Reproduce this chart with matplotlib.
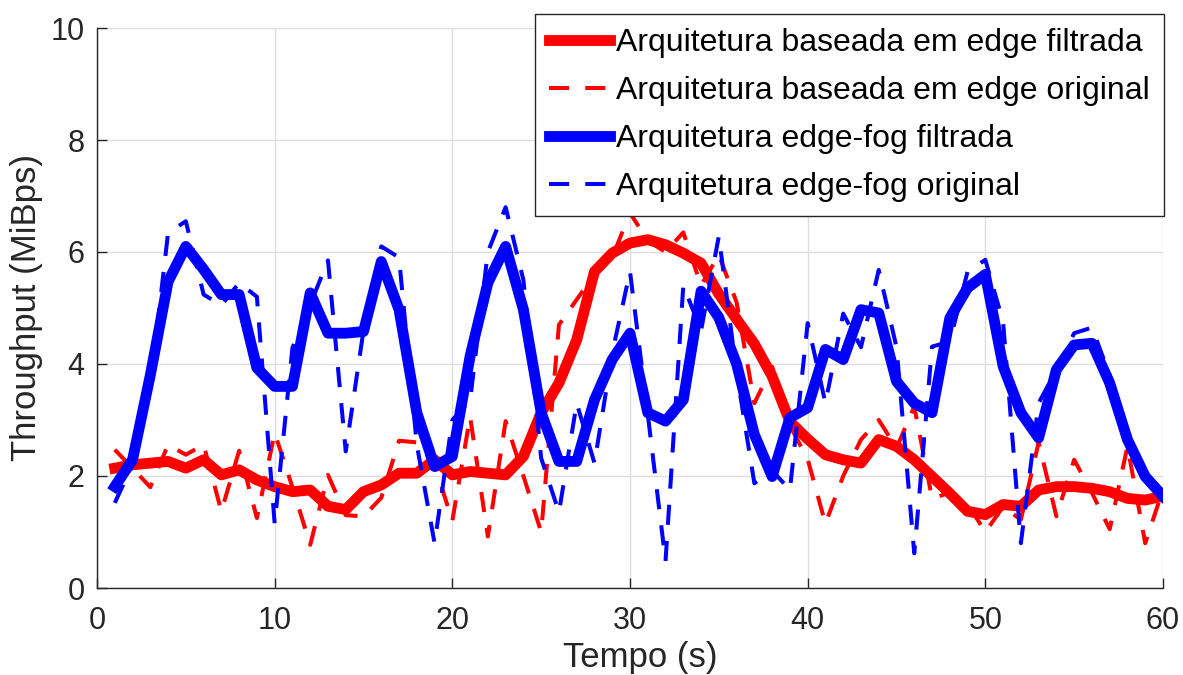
import numpy as np
import matplotlib
matplotlib.use("Agg")
import matplotlib.pyplot as plt

# Tempo (s)
tempo = list(range(1, 61))

# Arquitetura baseada em edge
edge_filtrada = [2.14, 2.20, 2.23, 2.26, 2.14, 2.29, 2.02, 2.11, 1.93, 1.81,
                 1.72, 1.75, 1.46, 1.40, 1.72, 1.84, 2.05, 2.05, 2.29, 2.02,
                 2.08, 2.05, 2.02, 2.35, 3.13, 3.66, 4.43, 5.65, 5.98, 6.16,
                 6.22, 6.13, 5.98, 5.80, 5.25, 4.80, 4.36, 3.78, 2.97, 2.66,
                 2.38, 2.29, 2.23, 2.65, 2.53, 2.29, 1.99, 1.69, 1.37, 1.31,
                 1.49, 1.46, 1.75, 1.81, 1.81, 1.78, 1.72, 1.60, 1.57, 1.64]
edge_original = [2.47, 2.14, 1.80, 2.56, 2.38, 2.56, 1.37, 2.45, 1.25, 2.77,
                 1.80, 0.77, 2.02, 1.30, 1.28, 1.61, 2.63, 2.60, 2.20, 1.20,
                 3.06, 0.92, 2.98, 2.00, 1.00, 4.70, 5.15, 5.60, 5.90, 6.70,
                 6.20, 6.00, 6.35, 5.40, 5.95, 5.10, 3.30, 3.95, 2.90, 2.30,
                 1.15, 2.00, 2.65, 3.00, 2.50, 3.24, 1.60, 1.70, 1.50, 1.00,
                 1.45, 1.22, 2.60, 1.28, 2.29, 1.70, 1.05, 2.53, 0.80, 1.76]

# Arquitetura edge-fog
fog_filtrada = [1.81, 2.29, 3.80, 5.47, 6.10, 5.69, 5.24, 5.24, 3.93, 3.60,
                3.60, 5.27, 4.55, 4.55, 4.58, 5.83, 4.97, 3.13, 2.17, 2.35,
                4.14, 5.45, 6.10, 4.97, 3.13, 2.26, 2.26, 3.36, 4.08, 4.55,
                3.13, 2.98, 3.36, 5.30, 4.83, 4.00, 2.74, 1.99, 3.04, 3.22,
                4.26, 4.08, 4.97, 4.91, 3.69, 3.30, 3.13, 4.82, 5.36, 5.60,
                3.96, 3.13, 2.68, 3.90, 4.34, 4.37, 3.66, 2.65, 1.99, 1.64]
fog_original = [1.52, 2.20, 3.60, 6.34, 6.55, 5.24, 5.05, 5.45, 5.20, 1.15,
                4.29, 5.06, 5.85, 2.44, 4.60, 6.10, 5.90, 2.56, 0.80, 3.00,
                3.35, 6.00, 6.80, 5.50, 2.32, 1.35, 3.30, 2.23, 4.20, 5.65,
                3.10, 0.48, 5.40, 4.60, 6.28, 3.85, 1.87, 2.10, 1.75, 4.73,
                3.30, 4.90, 4.30, 5.68, 4.30, 0.62, 4.31, 4.40, 5.65, 5.86,
                4.75, 0.80, 3.30, 3.90, 4.55, 4.65, 3.80, 2.80, 2.00, 1.60]

rotulos = ["Arquitetura baseada em edge filtrada",
           "Arquitetura baseada em edge original",
           "Arquitetura edge-fog filtrada",
           "Arquitetura edge-fog original"]

plt.rcParams["font.family"] = ["Liberation Sans", "DejaVu Sans"]

LW_GROSSA = 7.8
LW_FINA = 2.9
TRACOS = (5, 4)

fig = plt.figure(figsize=(11.83, 6.75), dpi=100)
ax = fig.add_axes([97 / 1183, 1 - 588 / 675, (1163 - 97) / 1183, (588 - 28) / 675])

ax.plot(tempo, edge_filtrada, color="red", linewidth=LW_GROSSA, label=rotulos[0])
ax.plot(tempo, edge_original, color="red", linewidth=LW_FINA, dashes=TRACOS, label=rotulos[1])
ax.plot(tempo, fog_filtrada, color="blue", linewidth=LW_GROSSA, label=rotulos[2])
ax.plot(tempo, fog_original, color="blue", linewidth=LW_FINA, dashes=TRACOS, label=rotulos[3])

ax.set_xlim(0, 60)
ax.set_ylim(0, 10)
ax.set_xticks(np.arange(0, 61, 10))
ax.set_yticks(np.arange(0, 11, 2))
ax.grid(True, color="#dedede", linewidth=1)
ax.set_axisbelow(True)

for lado in ["top", "right"]:
    ax.spines[lado].set_visible(False)
for lado in ["left", "bottom"]:
    ax.spines[lado].set_color("#262626")
    ax.spines[lado].set_linewidth(1)

ax.tick_params(direction="in", length=7, width=1, color="#262626",
               labelcolor="#262626", labelsize=22)
ax.tick_params(axis="x", pad=13)
ax.tick_params(axis="y", pad=9)

ax.set_xlabel("Tempo (s)", fontsize=25, color="#262626", labelpad=2)
ax.xaxis.set_label_coords((640 - 97) / 1066, -0.095)
ax.set_ylabel("Throughput (MiBps)", fontsize=25, color="#262626", labelpad=5)

leg = ax.legend(loc="upper right", bbox_to_anchor=(1164 / 1183, 1 - 14 / 675),
                bbox_transform=fig.transFigure, borderaxespad=0,
                fontsize=23, frameon=True, fancybox=False, framealpha=1,
                handlelength=1.9, handletextpad=0.19, labelspacing=0.56,
                borderpad=0.45)
leg.get_frame().set_edgecolor("#262626")
leg.get_frame().set_linewidth(1)

fig.savefig("out.png", dpi=100)
